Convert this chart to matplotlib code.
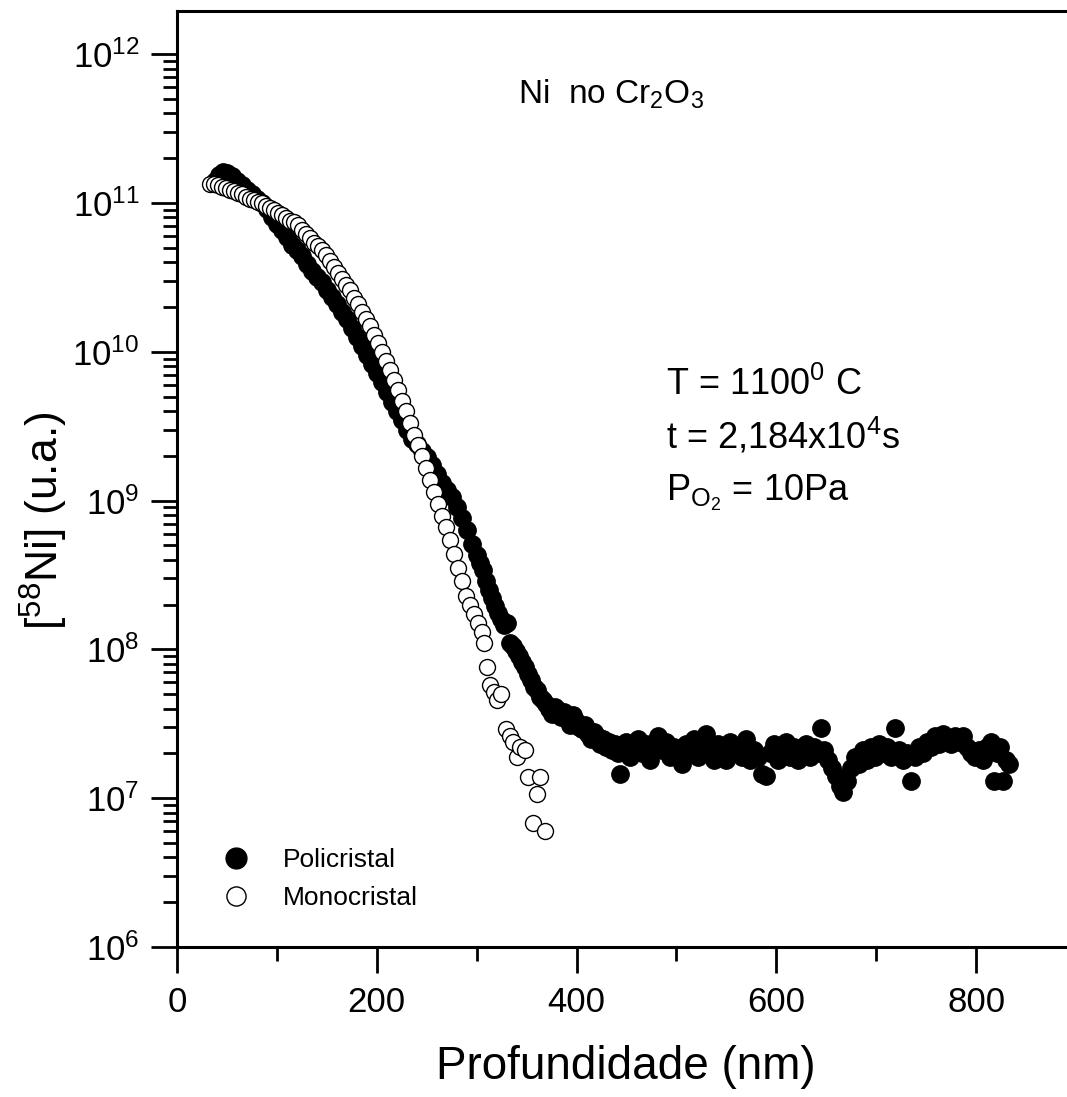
import math
import matplotlib
matplotlib.use("Agg")
import matplotlib.pyplot as plt
from matplotlib import ticker

# --- data ---
poli_x = [38, 42, 46, 50, 55, 60, 65, 70, 75, 80, 85, 90, 95, 100, 105, 110, 115, 120, 125, 130,
          135, 140, 145, 150, 155, 160, 165, 170, 175, 180, 185, 190, 195, 200, 205, 210, 215, 220,
          225, 230, 235, 240, 245, 250, 255, 260, 265, 270, 275, 280, 285, 290, 295,
          300, 303, 306, 309, 312, 315, 318, 321, 324, 327, 330, 333, 336, 339, 342, 345, 348, 351,
          354, 357, 360, 363, 366, 369, 372, 375, 378, 381, 384, 387, 390, 393, 396, 399, 402, 405,
          408, 411, 414, 417, 420, 423, 426, 429, 432, 435, 438, 441, 443,
          446, 450, 454, 458, 462, 466, 470, 474, 478, 482, 486, 490, 494, 498, 502, 506, 510, 514,
          518, 522, 526, 530, 534, 538, 542, 546, 550, 554, 558, 562, 566, 570, 574, 578, 582, 586,
          590, 594, 598, 602, 606, 610, 614, 618, 622, 626, 630, 634, 638, 642, 645, 648, 652, 656,
          660, 664, 667, 671, 675, 679, 683, 687, 691, 695, 699, 703, 707, 711, 715, 719, 723, 727,
          731, 735, 739, 743, 747, 751, 755, 759, 763, 767, 771, 775, 779, 783, 787, 791, 795, 799,
          803, 807, 811, 815, 818, 821, 824, 827, 830, 833]
poli_y = [1.41e11, 1.55e11, 1.62e11, 1.58e11, 1.51e11, 1.41e11, 1.32e11, 1.23e11, 1.15e11, 1.07e11,
          1.0e11, 9.1e10, 8.1e10, 7.2e10, 6.6e10, 5.9e10, 5.2e10, 4.8e10, 4.4e10, 3.9e10,
          3.5e10, 3.2e10, 2.95e10, 2.6e10, 2.35e10, 2.1e10, 1.86e10, 1.66e10, 1.45e10, 1.26e10,
          1.1e10, 9.5e9, 8.3e9, 7.2e9, 6.3e9, 5.4e9, 4.6e9, 4.0e9, 3.5e9, 3.0e9,
          2.6e9, 2.4e9, 2.15e9, 1.95e9, 1.74e9, 1.51e9, 1.32e9, 1.17e9, 1.05e9, 9.1e8,
          7.6e8, 6.3e8, 5.1e8,
          4.3e8, 3.8e8, 3.4e8, 2.9e8, 2.5e8, 2.2e8, 1.95e8, 1.75e8, 1.6e8, 1.45e8, 1.5e8, 1.1e8,
          1.05e8, 9.8e7, 9.0e7, 8.2e7, 7.6e7, 6.8e7, 6.2e7, 5.6e7, 5.3e7, 4.8e7, 4.6e7, 4.3e7,
          4.0e7, 3.7e7, 4.1e7, 3.9e7, 3.5e7, 3.8e7, 3.4e7, 3.1e7, 3.6e7, 3.3e7, 3.0e7, 2.9e7,
          3.1e7, 2.7e7, 2.5e7, 2.8e7, 2.6e7, 2.3e7, 2.5e7, 2.2e7, 2.4e7, 2.1e7, 2.3e7, 2.0e7, 1.45e7,
          2.2e7, 2.4e7, 1.9e7, 2.1e7, 2.5e7, 2.0e7, 2.3e7, 1.8e7, 2.2e7, 2.6e7, 2.1e7, 2.4e7,
          1.9e7, 2.2e7, 2.0e7, 1.7e7, 2.3e7, 2.1e7, 2.5e7, 1.9e7, 2.2e7, 2.7e7, 2.0e7, 1.8e7,
          2.3e7, 2.1e7, 1.8e7, 2.4e7, 2.0e7, 2.2e7, 1.9e7, 2.5e7, 1.8e7, 2.1e7, 1.9e7, 1.45e7,
          1.4e7, 2.0e7, 2.3e7, 1.8e7, 2.1e7, 2.4e7, 1.9e7, 2.2e7, 1.8e7, 2.1e7, 2.3e7, 1.9e7,
          2.2e7, 2.0e7, 2.95e7, 2.1e7, 1.8e7, 1.6e7, 1.4e7, 1.2e7, 1.1e7, 1.3e7, 1.6e7, 1.9e7,
          1.7e7, 2.1e7, 1.8e7, 2.2e7, 1.9e7, 2.3e7, 2.0e7, 2.2e7, 1.9e7, 2.95e7, 2.1e7, 1.8e7,
          2.0e7, 1.3e7, 1.9e7, 2.2e7, 2.0e7, 2.4e7, 2.2e7, 2.6e7, 2.3e7, 2.7e7, 2.5e7, 2.3e7,
          2.6e7, 2.4e7, 2.6e7, 2.2e7, 2.0e7, 1.9e7, 2.1e7, 1.8e7, 2.2e7, 2.4e7, 1.3e7, 2.0e7,
          2.2e7, 1.3e7, 1.8e7, 1.7e7]

mono_x = [33, 37, 41, 45, 49, 53, 57, 61, 65, 69, 73, 77, 81, 85, 89, 93, 97, 101, 105, 109,
          113, 117, 121, 125, 129, 133, 137, 141, 145, 149, 153, 157, 161, 165, 169, 173, 177, 181,
          185, 189, 193, 197, 201, 205, 209, 213, 217, 221, 225, 229, 233, 237, 241, 245, 249, 253,
          257, 261, 265, 269, 273, 277, 281, 285, 289, 293, 297, 301, 305, 307, 310, 313, 317, 320,
          324, 329, 333, 336, 340, 343, 348, 351, 356, 360, 363, 368]
mono_y = [1.35e11, 1.35e11, 1.32e11, 1.29e11, 1.26e11, 1.23e11, 1.20e11, 1.17e11, 1.15e11, 1.10e11,
          1.07e11, 1.05e11, 1.02e11, 1.0e11, 9.5e10, 9.3e10, 8.9e10, 8.5e10, 8.3e10, 7.9e10,
          7.6e10, 7.4e10, 7.1e10, 6.6e10, 6.2e10, 5.8e10, 5.4e10, 5.1e10, 4.8e10, 4.5e10,
          4.1e10, 3.7e10, 3.4e10, 3.1e10, 2.8e10, 2.6e10, 2.3e10, 2.1e10, 1.86e10, 1.66e10,
          1.48e10, 1.29e10, 1.15e10, 1.0e10, 8.7e9, 7.6e9, 6.5e9, 5.5e9, 4.7e9, 4.0e9,
          3.3e9, 2.75e9, 2.35e9, 2.0e9, 1.66e9, 1.38e9, 1.15e9, 9.5e8, 7.9e8, 6.6e8,
          5.4e8, 4.4e8, 3.5e8, 2.9e8, 2.3e8, 2.0e8, 1.74e8, 1.5e8, 1.3e8, 1.1e8,
          7.6e7, 5.8e7, 5.2e7, 4.6e7, 5.0e7, 2.9e7, 2.6e7, 2.4e7, 1.9e7, 2.2e7,
          2.1e7, 1.38e7, 6.8e6, 1.07e7, 1.38e7, 6.0e6]

x_ticks = [0, 200, 400, 600, 800]
y_exponents = [6, 7, 8, 9, 10, 11, 12]

plt.rcParams['font.family'] = 'Liberation Sans'

fig = plt.figure(figsize=(10.67, 10.97), dpi=100)
ax = fig.add_axes([177 / 1067, 1 - 947 / 1097, 1 - 177 / 1067, (947 - 11) / 1097])

ax.plot(poli_x, poli_y, 'o', ms=12.5, color='black', mec='black', label='Policristal', zorder=2)
ax.plot(mono_x, mono_y, 'o', ms=11.5, mfc='white', mec='black', mew=1.0, label='Monocristal', zorder=3)

ax.set_yscale('log')
ax.set_xlim(0, 891)
ax.set_ylim(1e6, 10 ** 12.29)

ax.set_xticks(x_ticks)
ax.xaxis.set_minor_locator(ticker.FixedLocator([100, 300, 500, 700]))
ax.set_yticks([10.0 ** e for e in y_exponents])
ax.yaxis.set_minor_locator(ticker.FixedLocator(
    [m * 10.0 ** e for e in y_exponents[:-1] for m in range(2, 10)] + [2e12]))
ax.yaxis.set_minor_formatter(ticker.NullFormatter())
ax.yaxis.set_major_formatter(ticker.FuncFormatter(
    lambda v, p: r'$\mathregular{10^{%d}}$' % round(math.log10(v))))

ax.tick_params(which='major', direction='out', length=19, width=2, labelsize=25)
ax.tick_params(axis='x', which='major', pad=9)
ax.tick_params(axis='y', which='major', pad=8)
ax.tick_params(which='minor', direction='out', length=10, width=2)

for s in ['left', 'bottom', 'top']:
    ax.spines[s].set_linewidth(2.2)
ax.spines['right'].set_visible(False)

ax.set_xlabel('Profundidade (nm)', fontsize=33)
ax.set_ylabel(r'[$\mathregular{^{58}}$Ni] (u.a.)', fontsize=32)
ax.xaxis.set_label_coords(0.504, -0.105)
ax.yaxis.set_label_coords(-0.12, 0.455)

ax.text(341, 10 ** 11.67, r'Ni  no Cr$\mathregular{_2}$O$\mathregular{_3}$', fontsize=24, va='baseline')
ax.text(490, 10 ** 9.71, r'T = 1100$\mathregular{^0}$ C', fontsize=26, va='baseline')
ax.text(490, 10 ** 9.35, r't = 2,184x10$\mathregular{^4}$s', fontsize=26, va='baseline')
ax.text(490, 10 ** 9.00, r'P$\mathregular{_{O_2}}$ = 10Pa', fontsize=26, va='baseline')

ax.legend(loc='upper left', bbox_to_anchor=(0.0513, 0.106), frameon=False, fontsize=19,
          markerscale=1.2, handlelength=1.0, handletextpad=1.3, labelspacing=0.55,
          borderpad=0, borderaxespad=0)

fig.savefig('out.png', dpi=100)
